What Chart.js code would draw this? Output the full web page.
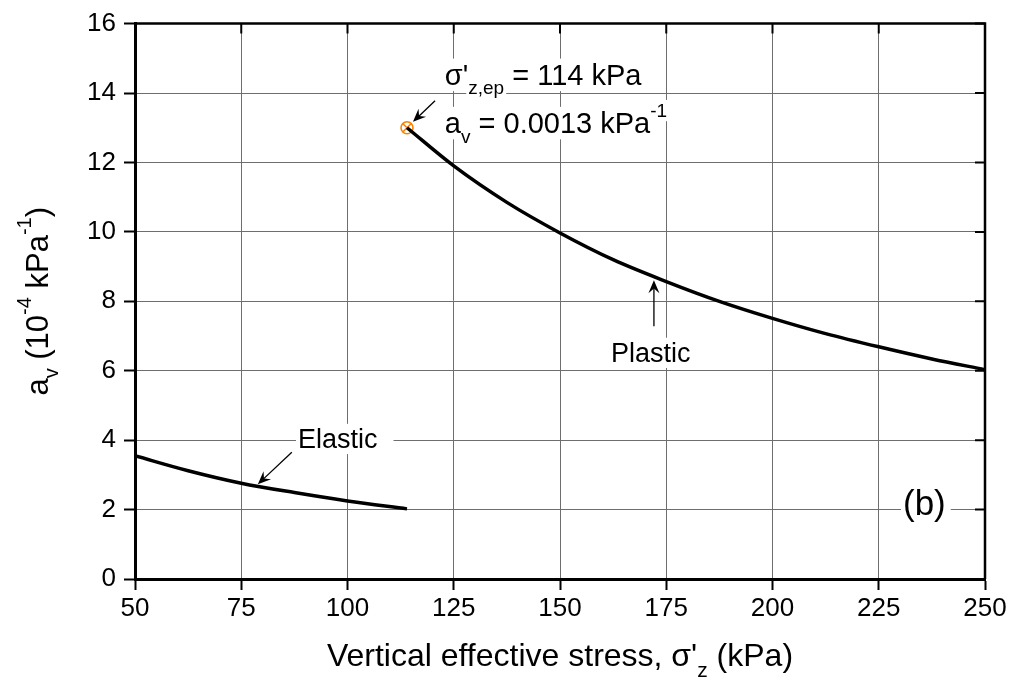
<!DOCTYPE html>
<html>
<head>
<meta charset="utf-8">
<script src="https://cdn.jsdelivr.net/npm/chart.js@4.4.1/dist/chart.umd.min.js"></script>
<style>
  html, body { margin: 0; padding: 0; background: #fff; }
  #wrap { width: 1017px; height: 683px; }
</style>
</head>
<body>
<div id="wrap"><canvas id="av"></canvas></div>
<script>
// coefficient of compressibility vs vertical effective stress
const elasticStress = [50, 62.5, 75, 87.5, 100, 114];
const elasticAv = [3.55, 3.12, 2.76, 2.49, 2.25, 2.02];
const plasticStress = [114, 125, 137.5, 150, 162.5, 175, 187.5, 200, 212.5, 225, 237.5, 250];
const plasticAv = [13.0, 11.9, 10.85, 9.97, 9.2, 8.57, 8.0, 7.51, 7.07, 6.69, 6.34, 6.03];
const yieldStress = [114];
const yieldAv = [13.0];
const xTicks = [50, 75, 100, 125, 150, 175, 200, 225, 250];
const yTicks = [0, 2, 4, 6, 8, 10, 12, 14, 16];

const FONT = "'Liberation Sans', Arial, sans-serif";
const ORANGE = '#ff8000';

const pts = (xs, ys) => xs.map((x, i) => ({ x: x, y: ys[i] }));

// text pieces: [string, 'n' | 'sub' | 'sup']
function richText(ctx, parts, x, y, size, white, padR) {
  const items = parts.map(([t, k]) => {
    const fs = k === 'n' ? size : Math.round(size * 0.65);
    const dy = k === 'sub' ? size * 0.33 : k === 'sup' ? -size * 0.55 : 0;
    ctx.font = fs + 'px ' + FONT;
    return { t, fs, dy, w: ctx.measureText(t).width };
  });
  let cx = x;
  if (white) {
    ctx.fillStyle = '#fff';
    items.forEach((it, i) => {
      const extra = i === items.length - 1 ? (padR || 0) : 0;
      ctx.fillRect(cx - 2, y + it.dy - it.fs * 0.9, it.w + 4 + extra, it.fs * 1.12);
      cx += it.w;
    });
  }
  cx = x;
  ctx.fillStyle = '#000';
  ctx.textBaseline = 'alphabetic';
  ctx.textAlign = 'left';
  items.forEach(it => {
    ctx.font = it.fs + 'px ' + FONT;
    ctx.fillText(it.t, cx, y + it.dy);
    cx += it.w;
  });
  return cx - x;
}

function richWidth(ctx, parts, size) {
  let w = 0;
  parts.forEach(([t, k]) => {
    const fs = k === 'n' ? size : Math.round(size * 0.65);
    ctx.font = fs + 'px ' + FONT;
    w += ctx.measureText(t).width;
  });
  return w;
}

function arrow(ctx, x0, y0, x1, y1) {
  const a = Math.atan2(y1 - y0, x1 - x0);
  const L = 13, H = 5.5;
  ctx.strokeStyle = '#000';
  ctx.fillStyle = '#000';
  ctx.lineWidth = 1.3;
  ctx.beginPath();
  ctx.moveTo(x0, y0);
  ctx.lineTo(x1 - Math.cos(a) * 6, y1 - Math.sin(a) * 6);
  ctx.stroke();
  const bx = x1 - Math.cos(a) * L, by = y1 - Math.sin(a) * L;
  const nx = x1 - Math.cos(a) * L * 0.65, ny = y1 - Math.sin(a) * L * 0.65;
  ctx.beginPath();
  ctx.moveTo(x1, y1);
  ctx.lineTo(bx - Math.sin(a) * H, by + Math.cos(a) * H);
  ctx.lineTo(nx, ny);
  ctx.lineTo(bx + Math.sin(a) * H, by - Math.cos(a) * H);
  ctx.closePath();
  ctx.fill();
}

// callouts placed in data units
const notes = [
  { x: 122.9, y: 14.24, size: 29, parts: [["\u03c3'", 'n'], ['z,ep', 'sub'], [' = 114 kPa', 'n']] },
  { x: 122.9, y: 12.85, size: 29, parts: [['a', 'n'], ['v', 'sub'], [' = 0.0013 kPa', 'n'], ['-1', 'sup']] },
  { x: 88.35, y: 3.77, size: 27, parts: [['Elastic', 'n']], padR: 14 },
  { x: 162.0, y: 6.25, size: 27, parts: [['Plastic', 'n']] },
  { x: 230.7, y: 1.83, size: 35, parts: [['(b)', 'n']], padR: 3 }
];
const pointers = [
  [120.6, 13.78, 115.4, 13.17],
  [86.9, 3.65, 78.9, 2.73],
  [172.1, 7.28, 172.1, 8.61]
];

const decor = {
  id: 'decor',
  beforeDatasetsDraw(chart) {
    const { ctx, scales: { x, y } } = chart;
    ctx.save();
    notes.forEach(n => {
      richText(ctx, n.parts, x.getPixelForValue(n.x), y.getPixelForValue(n.y), n.size, true, n.padR);
    });
    pointers.forEach(p => {
      arrow(ctx, x.getPixelForValue(p[0]), y.getPixelForValue(p[1]),
        x.getPixelForValue(p[2]), y.getPixelForValue(p[3]));
    });
    ctx.restore();
  },
  afterDraw(chart) {
    const { ctx, chartArea: a, scales: { x, y } } = chart;
    ctx.save();
    // top and right frame with inward ticks
    ctx.strokeStyle = '#000';
    ctx.lineWidth = 2.5;
    ctx.beginPath();
    ctx.moveTo(a.left, a.top);
    ctx.lineTo(a.right, a.top);
    ctx.lineTo(a.right, a.bottom);
    ctx.stroke();
    ctx.lineWidth = 2;
    ctx.beginPath();
    xTicks.forEach(v => {
      const px = x.getPixelForValue(v);
      ctx.moveTo(px, a.top);
      ctx.lineTo(px, a.top + 10);
    });
    yTicks.forEach(v => {
      const py = y.getPixelForValue(v);
      ctx.moveTo(a.right, py);
      ctx.lineTo(a.right - 10, py);
    });
    ctx.stroke();

    // axis titles
    const xt = [['Vertical effective stress, \u03c3\'', 'n'], ['z', 'sub'], [' (kPa)', 'n']];
    const xw = richWidth(ctx, xt, 32);
    richText(ctx, xt, (a.left + a.right) / 2 - xw / 2, 666, 32, false);

    const yt = [['a', 'n'], ['v', 'sub'], [' (10', 'n'], ['-4', 'sup'], [' kPa', 'n'], ['-1', 'sup'], [')', 'n']];
    const yw = richWidth(ctx, yt, 31);
    ctx.translate(48, (a.top + a.bottom) / 2);
    ctx.rotate(-Math.PI / 2);
    richText(ctx, yt, -yw / 2, 0, 31, false);
    ctx.restore();
  }
};

Chart.defaults.font.family = FONT;
Chart.defaults.color = '#000';

new Chart(document.getElementById('av'), {
  type: 'scatter',
  data: {
    datasets: [
      {
        label: 'Elastic',
        data: pts(elasticStress, elasticAv),
        showLine: true,
        borderColor: '#000',
        borderWidth: 3.5,
        pointRadius: 0,
        cubicInterpolationMode: 'monotone'
      },
      {
        label: 'Plastic',
        data: pts(plasticStress, plasticAv),
        showLine: true,
        borderColor: '#000',
        borderWidth: 3.5,
        pointRadius: 0,
        cubicInterpolationMode: 'monotone'
      },
      {
        label: 'Yield circle',
        data: pts(yieldStress, yieldAv),
        pointStyle: 'circle',
        pointRadius: 6,
        borderColor: ORANGE,
        backgroundColor: 'rgba(0,0,0,0)',
        borderWidth: 1.6
      },
      {
        label: 'Yield cross',
        data: pts(yieldStress, yieldAv),
        pointStyle: 'crossRot',
        pointRadius: 6,
        borderColor: ORANGE,
        borderWidth: 1.6
      }
    ]
  },
  options: {
    responsive: true,
    maintainAspectRatio: false,
    animation: false,
    events: [],
    layout: { padding: { top: 22, right: 32, left: 0, bottom: 0 } },
    plugins: {
      legend: { display: false },
      tooltip: { enabled: false }
    },
    scales: {
      x: {
        type: 'linear',
        min: 50,
        max: 250,
        afterBuildTicks: s => { s.ticks = xTicks.map(v => ({ value: v })); },
        afterFit: s => { s.height = 104; },
        ticks: { font: { size: 26 }, padding: 3, maxRotation: 0 },
        grid: { color: '#6e6e6e', lineWidth: 1, tickColor: '#000', tickLength: 11, tickWidth: 2 },
        border: { color: '#000', width: 3 }
      },
      y: {
        type: 'linear',
        min: 0,
        max: 16,
        afterBuildTicks: s => { s.ticks = yTicks.map(v => ({ value: v })); },
        afterFit: s => { s.width = 135; },
        ticks: { font: { size: 26 }, padding: 8 },
        grid: { color: '#6e6e6e', lineWidth: 1, tickColor: '#000', tickLength: 11, tickWidth: 2 },
        border: { color: '#000', width: 3 }
      }
    }
  },
  plugins: [decor]
});
</script>
</body>
</html>
